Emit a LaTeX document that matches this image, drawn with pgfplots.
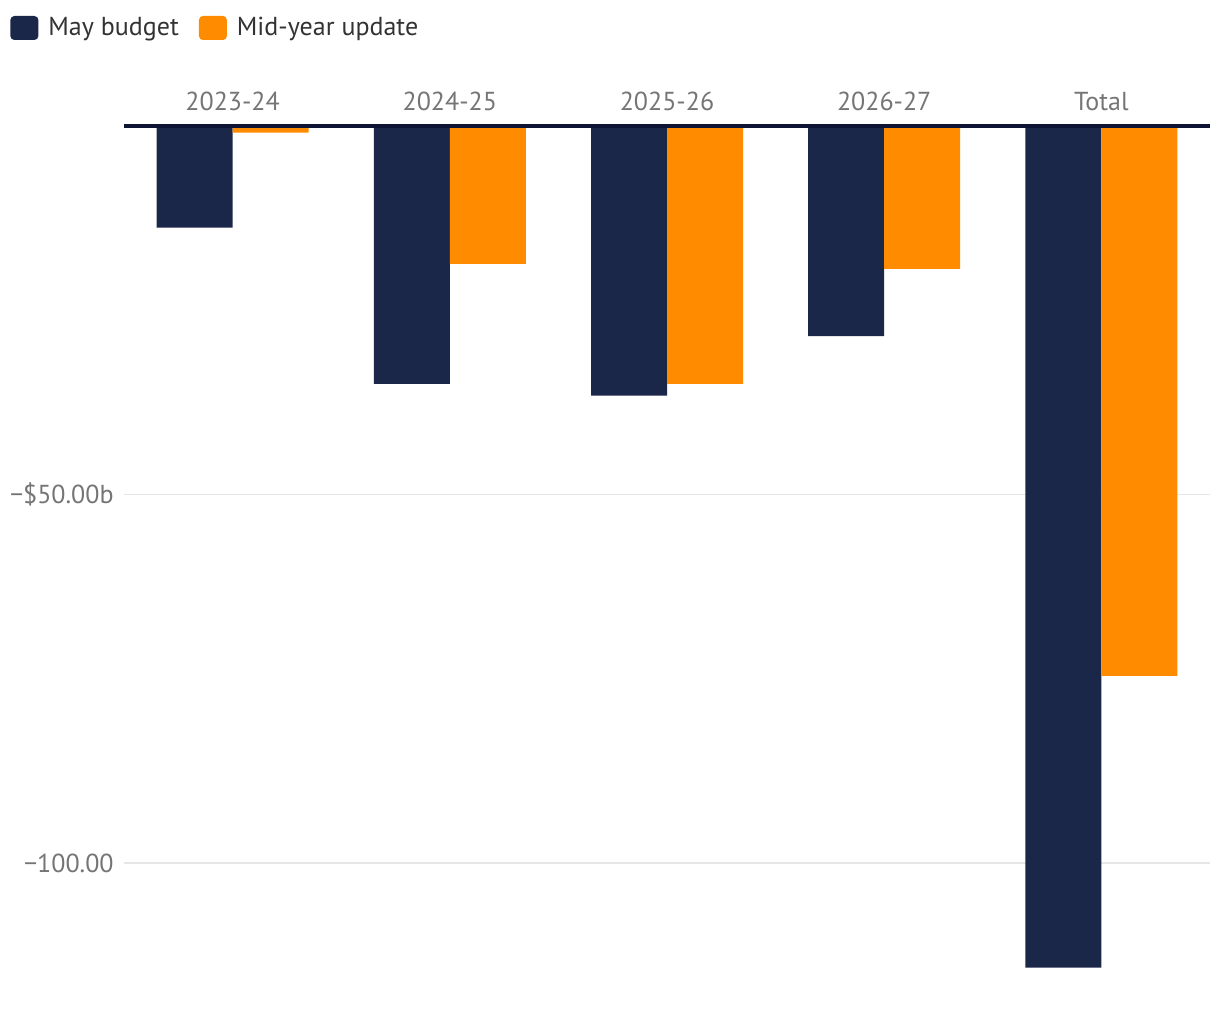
\documentclass[border=0pt]{standalone}
\usepackage{pgfplots}
\pgfplotsset{compat=1.18}
\usepackage{fontspec}
\setmainfont{PT Sans}
\definecolor{navy}{HTML}{1B2748}
\definecolor{orng}{HTML}{FF8C00}
\definecolor{axisnavy}{HTML}{0E1433}
\definecolor{tickgray}{HTML}{757575}
\definecolor{gridgray}{HTML}{E6E6E6}
\definecolor{legtext}{HTML}{333333}
\begin{document}
\begin{tikzpicture}
\path[use as bounding box] (0pt,0pt) rectangle (610pt,510pt);
\begin{axis}[
  at={(62pt,447pt)}, anchor=north west,
  scale only axis, width=543pt, height=442.2pt,
  xmin=-0.5, xmax=4.5, ymin=-120, ymax=0,
  axis line style={draw=none},
  major tick length=0pt,
  xtick={0,1,2,3,4},
  xticklabels={2023-24,2024-25,2025-26,2026-27,Total},
  xticklabel pos=upper,
  xticklabel style={font=\fontsize{13}{15}\selectfont, text=tickgray, inner sep=0pt, yshift=7.5pt},
  ytick={-100,-50},
  yticklabels={−100.00,−\$50.00b},
  yticklabel style={font=\fontsize{13}{15}\selectfont, text=tickgray, inner sep=0pt, xshift=-5pt},
  ymajorgrids, grid style={gridgray, line width=0.75pt},
  clip=false,
  legend style={at={(-0.105,1.1108)}, anchor=west, draw=none, fill=none, inner sep=0pt,
    font=\fontsize{13}{15}\selectfont, text=legtext,
    legend columns=-1,
    /tikz/every odd column/.append style={column sep=3pt},
    /tikz/every even column/.append style={column sep=8pt}},
  legend image code/.code={\draw[#1, draw=none, rounded corners=2pt] (0pt,-6pt) rectangle (14pt,6pt);},
]
\addplot[ybar, bar width=38pt, bar shift=-19pt, fill=navy, draw=none] coordinates {
 (0,-13.8) (1,-35.0) (2,-36.6) (3,-28.5) (4,-114.2)};
\addlegendentry{May budget}
\addplot[ybar, bar width=38pt, bar shift=19pt, fill=orng, draw=none] coordinates {
 (0,-0.9) (1,-18.7) (2,-35.0) (3,-19.4) (4,-74.6)};
\addlegendentry{Mid-year update}
\draw[axisnavy, line width=1.6pt] (axis cs:-0.5,0) -- (axis cs:4.5,0);
\end{axis}
\end{tikzpicture}
\end{document}
